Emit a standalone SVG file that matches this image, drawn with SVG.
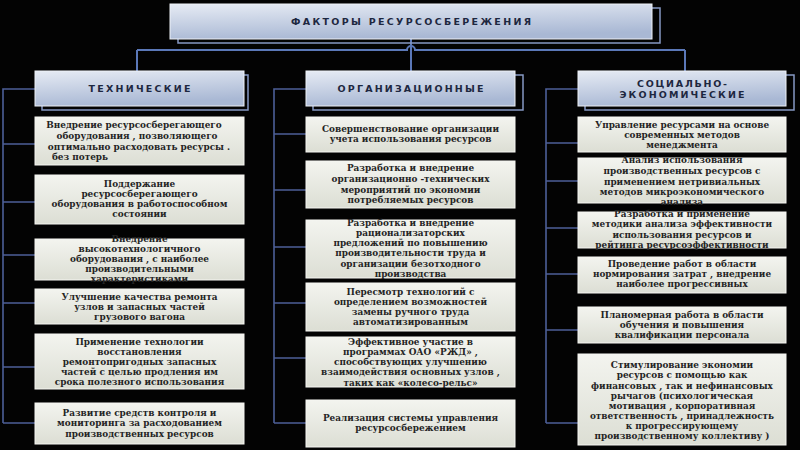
<svg xmlns="http://www.w3.org/2000/svg" width="800" height="450" viewBox="0 0 800 450">
<defs>
<linearGradient id="gHead" x1="0" y1="0" x2="0.3" y2="1">
<stop offset="0" stop-color="#e6ebf4"/>
<stop offset="1" stop-color="#a9b8d4"/>
</linearGradient>
<linearGradient id="gBox" x1="0" y1="0" x2="0" y2="1">
<stop offset="0" stop-color="#f3f4ef"/>
<stop offset="1" stop-color="#dcded4"/>
</linearGradient>
<style>
.bg{fill:#030303}
.head{fill:url(#gHead);stroke:#eef1f7;stroke-width:1}
.frame{fill:none;stroke:#8799c4;stroke-width:1.5}
.box{fill:url(#gBox);stroke:#f6f6f2;stroke-width:1}
.ht{font-family:"DejaVu Sans","Liberation Sans",sans-serif;font-weight:bold;font-size:9.5px;fill:#1d2740;text-anchor:middle}
.bt{font-family:"DejaVu Serif","Liberation Serif",serif;font-weight:bold;font-size:8.9px;fill:#242424;text-anchor:middle}
.conn{fill:none;stroke:#5b78b8;stroke-width:2}
.br{fill:none;stroke:#4d5f98;stroke-width:1.6}
</style>
</defs>
<rect class="bg" x="0" y="0" width="800" height="450"/>

<g id="connectors">
<path class="conn" d="M411,39 V71"/>
<path class="conn" d="M137,50 H407 A4,4 0 0 1 415,50 H685"/>
<path class="conn" d="M137,50 V71"/>
<path class="conn" d="M685,50 V71"/>
<path class="br" d="M35,89 H3 V423 M3,144 H35 M3,202 H35 M3,255 H35 M3,303 H35 M3,367 H35 M3,423 H35"/>
<path class="br" d="M306,89 H274 V423 M274,134 H306 M274,190 H306 M274,247 H306 M274,303 H306 M274,358 H306 M274,423 H306"/>
<path class="br" d="M578,89 H546 V423 M546,143 H578 M546,181 H578 M546,228 H578 M546,274 H578 M546,330 H578 M546,423 H578"/>
</g>

<g id="root">
<rect class="frame" x="178" y="8" width="482" height="35"/>
<rect class="head" x="170" y="4" width="482" height="35"/>
<text class="ht" x="411" y="25" textLength="240" lengthAdjust="spacing">ФАКТОРЫ РЕСУРСОСБЕРЕЖЕНИЯ</text>
</g>

<g id="tech">
<rect class="frame" x="42" y="75" width="206" height="35"/>
<rect class="head" x="35" y="71" width="209" height="35"/>
<text class="ht" x="139.5" y="92" textLength="102" lengthAdjust="spacing">ТЕХНИЧЕСКИЕ</text>
</g>
<g id="org">
<rect class="frame" x="313" y="75" width="210" height="35"/>
<rect class="head" x="306" y="71" width="209" height="35"/>
<text class="ht" x="410.5" y="92" textLength="146" lengthAdjust="spacing">ОРГАНИЗАЦИОННЫЕ</text>
</g>
<g id="soc">
<rect class="frame" x="585" y="75" width="209" height="35"/>
<rect class="head" x="578" y="71" width="208" height="35"/>
<text class="ht" x="682" y="87" textLength="90" lengthAdjust="spacing">СОЦИАЛЬНО-</text>
<text class="ht" x="682" y="97.5" textLength="125" lengthAdjust="spacing">ЭКОНОМИЧЕСКИЕ</text>
</g>

<g id="t1"><rect class="box" x="35" y="117" width="209" height="48"/>
<text class="bt"><tspan x="134" y="128">Внедрение ресурсосберегающего</tspan><tspan x="137" y="139">оборудования , позволяющего</tspan><tspan x="139" y="150">оптимально расходовать ресурсы .</tspan><tspan x="80" y="160">без потерь</tspan></text></g>
<g id="t2"><rect class="box" x="35" y="175" width="209" height="49"/>
<text class="bt"><tspan x="139.5" y="187">Поддержание</tspan><tspan x="139.5" y="197">ресурсосберегающего</tspan><tspan x="139.5" y="207">оборудования в работоспособном</tspan><tspan x="139.5" y="217">состоянии</tspan></text></g>
<g id="t3"><rect class="box" x="35" y="239" width="209" height="41"/>
<text class="bt"><tspan x="139.5" y="242">Внедрение</tspan><tspan x="139.5" y="252">высокотехнологичного</tspan><tspan x="139.5" y="262">оборудования , с наиболее</tspan><tspan x="139.5" y="272">производительными</tspan><tspan x="139.5" y="282">характеристиками</tspan></text></g>
<g id="t4"><rect class="box" x="35" y="289" width="209" height="35"/>
<text class="bt"><tspan x="139.5" y="300">Улучшение качества ремонта</tspan><tspan x="139.5" y="310">узлов и запасных частей</tspan><tspan x="139.5" y="320">грузового вагона</tspan></text></g>
<g id="t5"><rect class="box" x="35" y="334" width="209" height="55"/>
<text class="bt"><tspan x="139.5" y="345">Применение технологии</tspan><tspan x="139.5" y="355">восстановления</tspan><tspan x="139.5" y="365">ремонтопригодных запасных</tspan><tspan x="139.5" y="375">частей с целью продления им</tspan><tspan x="139.5" y="385">срока полезного использования</tspan></text></g>
<g id="t6"><rect class="box" x="35" y="403" width="209" height="41"/>
<text class="bt"><tspan x="139.5" y="416">Развитие средств контроля и</tspan><tspan x="139.5" y="426">мониторинга за расходованием</tspan><tspan x="139.5" y="437">производственных ресурсов</tspan></text></g>

<g id="o1"><rect class="box" x="306" y="117" width="209" height="35"/>
<text class="bt"><tspan x="410.5" y="132">Совершенствование организации</tspan><tspan x="410.5" y="142">учета использования ресурсов</tspan></text></g>
<g id="o2"><rect class="box" x="306" y="161" width="209" height="47"/>
<text class="bt"><tspan x="410.5" y="171">Разработка и внедрение</tspan><tspan x="410.5" y="182">организационно -технических</tspan><tspan x="410.5" y="193">мероприятий по экономии</tspan><tspan x="410.5" y="203">потребляемых ресурсов</tspan></text></g>
<g id="o3"><rect class="box" x="306" y="220" width="209" height="58"/>
<text class="bt"><tspan x="410.5" y="226">Разработка и внедрение</tspan><tspan x="410.5" y="236">рационализаторских</tspan><tspan x="410.5" y="246">предложений по повышению</tspan><tspan x="410.5" y="256">производительности труда и</tspan><tspan x="410.5" y="267">организации безотходного</tspan><tspan x="410.5" y="277">производства</tspan></text></g>
<g id="o4"><rect class="box" x="306" y="283" width="209" height="48"/>
<text class="bt"><tspan x="410.5" y="295">Пересмотр технологий с</tspan><tspan x="410.5" y="305">определением возможностей</tspan><tspan x="410.5" y="315">замены ручного труда</tspan><tspan x="410.5" y="325">автоматизированным</tspan></text></g>
<g id="o5"><rect class="box" x="306" y="337" width="209" height="50"/>
<text class="bt"><tspan x="410.5" y="345">Эффективное участие в</tspan><tspan x="410.5" y="355">программах ОАО «РЖД» ,</tspan><tspan x="410.5" y="365">способствующих улучшению</tspan><tspan x="410.5" y="375">взаимодействия основных узлов ,</tspan><tspan x="410.5" y="386">таких как «колесо-рельс»</tspan></text></g>
<g id="o6"><rect class="box" x="306" y="400" width="209" height="47"/>
<text class="bt"><tspan x="410.5" y="421">Реализация системы управления</tspan><tspan x="410.5" y="431">ресурсосбережением</tspan></text></g>

<g id="s1"><rect class="box" x="578" y="117" width="208" height="35"/>
<text class="bt"><tspan x="682" y="128">Управление ресурсами на основе</tspan><tspan x="682" y="138">современных методов</tspan><tspan x="682" y="148">менеджмента</tspan></text></g>
<g id="s2"><rect class="box" x="578" y="158" width="208" height="45"/>
<text class="bt"><tspan x="682" y="163">Анализ использования</tspan><tspan x="682" y="174">производственных ресурсов с</tspan><tspan x="682" y="185">применением нетривиальных</tspan><tspan x="682" y="195">методов микроэкономического</tspan><tspan x="682" y="205">анализа</tspan></text></g>
<g id="s3"><rect class="box" x="578" y="212" width="208" height="36"/>
<text class="bt"><tspan x="682" y="217">Разработка и применение</tspan><tspan x="682" y="227">методики анализа эффективности</tspan><tspan x="682" y="238">использования ресурсов и</tspan><tspan x="682" y="248">рейтинга ресурсоэффективности</tspan></text></g>
<g id="s4"><rect class="box" x="578" y="257" width="208" height="36"/>
<text class="bt"><tspan x="682" y="267">Проведение работ в области</tspan><tspan x="682" y="277">нормирования затрат , внедрение</tspan><tspan x="682" y="287">наиболее прогрессивных</tspan></text></g>
<g id="s5"><rect class="box" x="578" y="307" width="208" height="36"/>
<text class="bt"><tspan x="682" y="318">Планомерная работа в области</tspan><tspan x="682" y="328">обучения и повышения</tspan><tspan x="682" y="338">квалификации персонала</tspan></text></g>
<g id="s6"><rect class="box" x="578" y="354" width="208" height="91"/>
<text class="bt"><tspan x="682" y="368">Стимулирование экономии</tspan><tspan x="682" y="378">ресурсов с помощью как</tspan><tspan x="682" y="389">финансовых , так и нефинансовых</tspan><tspan x="682" y="399">рычагов (психологическая</tspan><tspan x="682" y="409">мотивация , корпоративная</tspan><tspan x="682" y="419">ответственность , принадлежность</tspan><tspan x="682" y="429">к прогрессирующему</tspan><tspan x="682" y="439">производственному коллективу )</tspan></text></g>
</svg>
